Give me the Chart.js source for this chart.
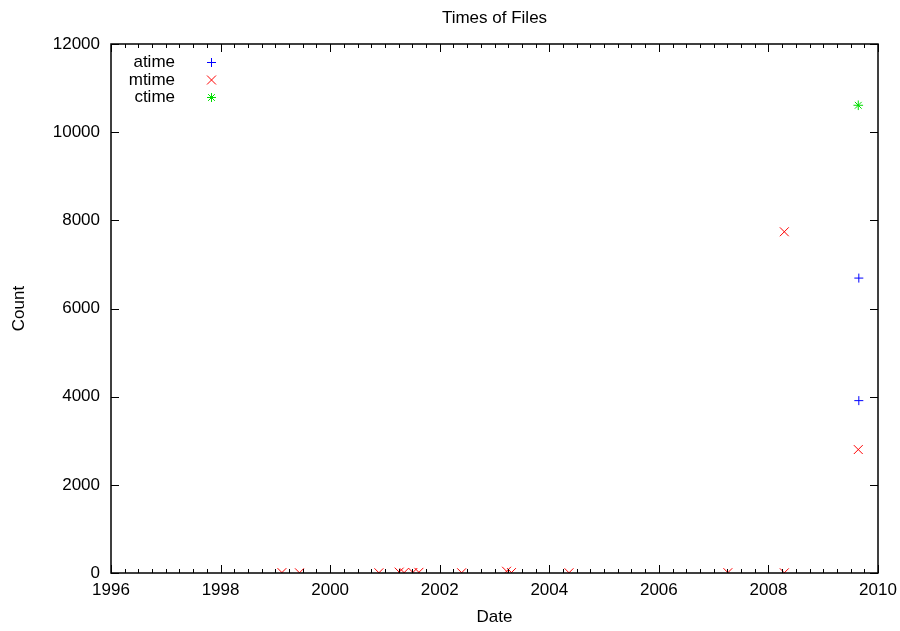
<!DOCTYPE html>
<html>
<head>
<meta charset="utf-8">
<title>Times of Files</title>
<script src="https://cdn.jsdelivr.net/npm/chart.js@4.4.1/dist/chart.umd.min.js"></script>
<style>
    html, body { margin: 0; padding: 0; background: #fff; }
    #wrap { width: 900px; height: 631px; }
</style>
</head>
<body>
<div id="wrap"><canvas id="chart" width="900" height="631"></canvas></div>
<script>
    // values (x = fractional year, y = count)
    const atimeX = [2009.65, 2009.65];
    const atimeY = [6690, 3910];

    const mtimeX = [1999.12, 1999.44, 2000.89, 2001.26, 2001.35, 2001.51, 2001.62, 2002.40,
        2003.22, 2003.31, 2004.36, 2007.26, 2008.29, 2008.29, 2009.64];
    const mtimeY = [10, 5, 5, 20, 8, 12, 15, 6, 40, 10, 5, 8, 4, 7740, 2800];

    const ctimeX = [2009.64];
    const ctimeY = [10610];

    const xMajorTicks = [1996, 1998, 2000, 2002, 2004, 2006, 2008, 2010];
    const yMajorTicks = [0, 2000, 4000, 6000, 8000, 10000, 12000];

    const FONT = '"Liberation Sans", Arial, Helvetica, sans-serif';

    function toPoints(xs, ys) {
        return xs.map((x, i) => ({ x, y: ys[i] }));
    }

    function drawMarker(ctx, style, x, y, r) {
        ctx.beginPath();
        if (style === 'cross' || style === 'star') {
            ctx.moveTo(x - r, y); ctx.lineTo(x + r, y);
            ctx.moveTo(x, y - r); ctx.lineTo(x, y + r);
        }
        if (style === 'crossRot' || style === 'star') {
            const d = style === 'star' ? r * 0.75 : r;
            ctx.moveTo(x - d, y - d); ctx.lineTo(x + d, y + d);
            ctx.moveTo(x - d, y + d); ctx.lineTo(x + d, y - d);
        }
        ctx.stroke();
    }

    // frame, inward ticks, title and legend, gnuplot style
    const gnuplotFrame = {
        id: 'gnuplotFrame',
        afterDatasetsDraw(chart) {
            const { ctx, chartArea: a, scales } = chart;
            ctx.save();
            ctx.strokeStyle = '#000';
            ctx.lineWidth = 1;

            ctx.beginPath();
            xMajorTicks.forEach((v) => {
                const px = Math.round(scales.x.getPixelForValue(v)) + 0.5;
                ctx.moveTo(px, a.bottom); ctx.lineTo(px, a.bottom - 8);
                ctx.moveTo(px, a.top); ctx.lineTo(px, a.top + 8);
            });
            for (let v = 1996; v <= 2010; v += 0.25) {
                const px = Math.round(scales.x.getPixelForValue(v)) + 0.5;
                ctx.moveTo(px, a.bottom); ctx.lineTo(px, a.bottom - 4);
                ctx.moveTo(px, a.top); ctx.lineTo(px, a.top + 4);
            }
            yMajorTicks.forEach((v) => {
                const py = Math.round(scales.y.getPixelForValue(v)) + 0.5;
                ctx.moveTo(a.left, py); ctx.lineTo(a.left + 8, py);
                ctx.moveTo(a.right, py); ctx.lineTo(a.right - 8, py);
            });
            ctx.stroke();

            ctx.lineWidth = 1.5;
            ctx.strokeRect(a.left, a.top, a.right - a.left, a.bottom - a.top);

            ctx.fillStyle = '#000';
            ctx.font = `17px ${FONT}`;
            ctx.textAlign = 'center';
            ctx.textBaseline = 'middle';
            ctx.fillText('Times of Files', (a.left + a.right) / 2, 18.5);

            ctx.textAlign = 'right';
            ctx.lineWidth = 1;
            chart.data.datasets.forEach((ds, i) => {
                const y = a.top + 18.5 + i * 17.5;
                ctx.fillStyle = '#000';
                ctx.fillText(ds.label, a.left + 64, y);
                ctx.strokeStyle = ds.borderColor;
                drawMarker(ctx, ds.pointStyle, a.left + 100.5, y, 4.5);
            });
            ctx.restore();
        },
    };

    const markerRadius = { cross: 4.5, crossRot: 6.3, star: 4.8 };

    const datasets = [
        { label: 'atime', data: toPoints(atimeX, atimeY), borderColor: '#0000ff', pointStyle: 'cross' },
        { label: 'mtime', data: toPoints(mtimeX, mtimeY), borderColor: '#ff0000', pointStyle: 'crossRot' },
        { label: 'ctime', data: toPoints(ctimeX, ctimeY), borderColor: '#00dd00', pointStyle: 'star' },
    ].map((ds) => Object.assign(ds, {
        backgroundColor: ds.borderColor,
        pointBorderColor: ds.borderColor,
        pointBackgroundColor: ds.borderColor,
        pointRadius: markerRadius[ds.pointStyle],
        pointHoverRadius: markerRadius[ds.pointStyle],
        pointBorderWidth: 1,
        showLine: false,
    }));

    new Chart(document.getElementById('chart').getContext('2d'), {
        type: 'scatter',
        data: { datasets },
        options: {
            responsive: false,
            animation: false,
            events: [],
            layout: { padding: { top: 44, right: 22, left: 0, bottom: 0 } },
            plugins: {
                legend: { display: false },
                tooltip: { enabled: false },
            },
            scales: {
                x: {
                    type: 'linear',
                    min: 1996,
                    max: 2010,
                    afterFit(scale) {
                        scale.height = 58;
                        scale.paddingLeft = 0;
                        scale.paddingRight = 0;
                    },
                    afterBuildTicks(scale) { scale.ticks = xMajorTicks.map((v) => ({ value: v })); },
                    grid: { display: false, drawTicks: false },
                    border: { display: false },
                    ticks: {
                        color: '#000',
                        padding: 7,
                        font: { family: FONT, size: 17 },
                        maxRotation: 0,
                        autoSkip: false,
                        callback: (v) => String(v),
                    },
                    title: {
                        display: true,
                        text: 'Date',
                        color: '#000',
                        font: { family: FONT, size: 17 },
                        padding: { top: 0, bottom: 3 },
                    },
                },
                y: {
                    min: 0,
                    max: 12000,
                    afterFit(scale) {
                        scale.width = 111;
                        scale.paddingTop = 0;
                        scale.paddingBottom = 0;
                    },
                    afterBuildTicks(scale) { scale.ticks = yMajorTicks.map((v) => ({ value: v })); },
                    grid: { display: false, drawTicks: false },
                    border: { display: false },
                    ticks: {
                        color: '#000',
                        padding: 11,
                        font: { family: FONT, size: 17 },
                        autoSkip: false,
                        callback: (v) => String(v),
                    },
                    title: {
                        display: true,
                        text: 'Count',
                        color: '#000',
                        font: { family: FONT, size: 17 },
                        padding: { top: 9, bottom: 0 },
                    },
                },
            },
        },
        plugins: [gnuplotFrame],
    });
</script>
</body>
</html>
